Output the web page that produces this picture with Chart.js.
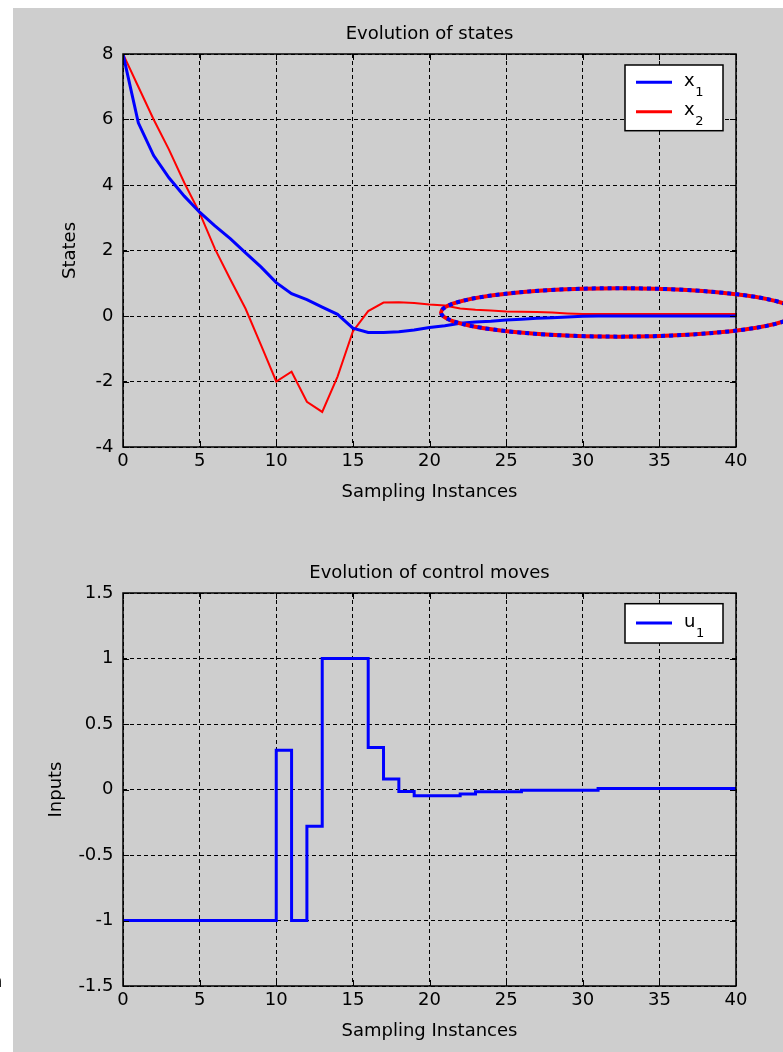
<!DOCTYPE html>
<html>
<head>
<meta charset="utf-8">
<script src="https://cdn.jsdelivr.net/npm/chart.js@4.4.1/dist/chart.umd.min.js"></script>
<style>
html, body { margin: 0; padding: 0; background: #ffffff; width: 783px; height: 1052px; overflow: hidden; }
#bg { position: absolute; left: 13px; top: 8px; right: 0; bottom: 0; background: #cecece; }
canvas { position: absolute; left: 0; }
#c1 { top: 0; }
#c2 { top: 520px; }
#stray { position: absolute; left: -9px; top: 972px; font: 18px "DejaVu Sans"; line-height: 18px; color: #000; }
</style>
</head>
<body>
<div id="bg"></div>
<canvas id="c1" width="783" height="520"></canvas>
<canvas id="c2" width="783" height="532"></canvas>
<span id="stray">n</span>
<script>
// ---------------- data ----------------
const samplingInstances = [0,1,2,3,4,5,6,7,8,9,10,11,12,13,14,15,16,17,18,19,20,
  21,22,23,24,25,26,27,28,29,30,31,32,33,34,35,36,37,38,39,40];

const x1States = [8, 5.9, 4.9, 4.22, 3.66, 3.17, 2.75, 2.36, 1.93, 1.5,
  1.02, 0.68, 0.5, 0.27, 0.05, -0.37, -0.5, -0.5, -0.48, -0.43,
  -0.35, -0.3, -0.22, -0.18, -0.16, -0.12, -0.1, -0.07, -0.05, -0.03,
  -0.01, 0, 0, 0, 0, 0, 0, 0, 0, 0, 0];

const x2States = [8, 7.0, 6.0, 5.08, 4.07, 3.15, 2.05, 1.12, 0.22, -0.88,
  -2.0, -1.7, -2.62, -2.93, -1.85, -0.47, 0.15, 0.41, 0.42, 0.4,
  0.35, 0.32, 0.23, 0.19, 0.17, 0.14, 0.13, 0.12, 0.11, 0.08,
  0.06, 0.06, 0.06, 0.06, 0.06, 0.06, 0.06, 0.06, 0.06, 0.06, 0.06];

const u1Inputs = [-1, -1, -1, -1, -1, -1, -1, -1, -1, -1,
  0.3, -1, -0.28, 1, 1, 1, 0.32, 0.08, -0.015, -0.047,
  -0.047, -0.047, -0.035, -0.017, -0.017, -0.017, -0.005, -0.005, -0.005, -0.005,
  -0.005, 0.008, 0.008, 0.008, 0.008, 0.008, 0.008, 0.008, 0.008, 0.008, 0.008];

const xTickValues = [0, 5, 10, 15, 20, 25, 30, 35, 40];
const xTickLabels = ['0', '5', '10', '15', '20', '25', '30', '35', '40'];
const statesTickValues = [-4, -2, 0, 2, 4, 6, 8];
const statesTickLabels = ['-4', '-2', '0', '2', '4', '6', '8'];
const inputsTickValues = [-1.5, -1, -0.5, 0, 0.5, 1, 1.5];
const inputsTickLabels = ['-1.5', '-1', '-0.5', '0', '0.5', '1', '1.5'];

// highlighted region (data units): centre t, centre value, half-width, half-height
const highlightEllipse = [32.35, 0.11, 11.6, 0.74];

// ---------------- helpers ----------------
const FONT = '"DejaVu Sans", sans-serif';
const toXY = (vals) => samplingInstances.map((t, i) => ({ x: t, y: vals[i] }));

const matlabFrame = {
  id: 'matlabFrame',
  afterDatasetsDraw(chart) {
    const { ctx, chartArea: a, scales: { x, y } } = chart;
    const L = 6;
    ctx.save();
    ctx.setLineDash([]);
    ctx.strokeStyle = '#000';
    ctx.lineWidth = 1;
    ctx.beginPath();
    x.ticks.forEach(t => {
      const px = Math.round(x.getPixelForValue(t.value)) + 0.5;
      ctx.moveTo(px, a.bottom); ctx.lineTo(px, a.bottom - L);
      ctx.moveTo(px, a.top); ctx.lineTo(px, a.top + L);
    });
    y.ticks.forEach(t => {
      const py = Math.round(y.getPixelForValue(t.value)) + 0.5;
      ctx.moveTo(a.left, py); ctx.lineTo(a.left + L, py);
      ctx.moveTo(a.right, py); ctx.lineTo(a.right - L, py);
    });
    ctx.stroke();
    ctx.lineWidth = 1.5;
    ctx.strokeRect(a.left, a.top, a.right - a.left, a.bottom - a.top);
    ctx.restore();
  }
};

const matlabLegend = {
  id: 'matlabLegend',
  afterDraw(chart, args, o) {
    const { ctx, chartArea: a } = chart;
    const w = 98;
    const left = a.right - 13 - w, top = a.top + o.offsetTop;
    ctx.save();
    ctx.setLineDash([]);
    ctx.fillStyle = '#fff';
    ctx.fillRect(left, top, w, o.height);
    ctx.strokeStyle = '#000';
    ctx.lineWidth = 1.5;
    ctx.strokeRect(left, top, w, o.height);
    chart.data.datasets.forEach((d, i) => {
      const yy = top + o.firstRow + i * o.rowGap;
      ctx.strokeStyle = d.borderColor;
      ctx.lineWidth = 3;
      ctx.beginPath();
      ctx.moveTo(left + 11, yy);
      ctx.lineTo(left + 47, yy);
      ctx.stroke();
      const parts = d.label.split('_');
      ctx.fillStyle = '#000';
      ctx.textAlign = 'left';
      ctx.textBaseline = 'alphabetic';
      ctx.font = '18px ' + FONT;
      ctx.fillText(parts[0], left + 59, yy + 3.5);
      const mw = ctx.measureText(parts[0]).width;
      ctx.font = '13px ' + FONT;
      ctx.fillText(parts[1], left + 59 + mw + 0.5, yy + 13.5);
    });
    ctx.restore();
  }
};

const ellipsePlugin = {
  id: 'ellipsePlugin',
  afterDraw(chart, args, o) {
    if (!o || !o.ellipse) return;
    const { ctx, scales: { x, y } } = chart;
    const [cx, cy, rx, ry] = o.ellipse;
    const px = x.getPixelForValue(cx), py = y.getPixelForValue(cy);
    const prx = x.getPixelForValue(cx + rx) - px;
    const pry = py - y.getPixelForValue(cy + ry);
    ctx.save();
    ctx.lineWidth = 4;
    ctx.beginPath();
    ctx.ellipse(px, py, prx, pry, 0, 0, 2 * Math.PI);
    ctx.strokeStyle = '#ff0000';
    ctx.setLineDash([]);
    ctx.stroke();
    ctx.strokeStyle = '#0000ff';
    ctx.setLineDash([4, 4]);
    ctx.stroke();
    ctx.restore();
  }
};

function makeOptions(cfg) {
  return {
    responsive: false,
    animation: false,
    devicePixelRatio: 1,
    layout: { padding: { left: 0, right: 47, top: 0, bottom: 0 } },
    plugins: {
      legend: { display: false },
      tooltip: { enabled: false },
      title: {
        display: true, text: cfg.title, fullSize: false, color: '#000',
        font: { family: FONT, size: 18, weight: 'normal', lineHeight: 1.2 },
        padding: { top: cfg.titlePadTop, bottom: cfg.titlePadBottom }
      },
      matlabLegend: cfg.legend,
      ellipsePlugin: { ellipse: cfg.ellipse }
    },
    scales: {
      x: {
        type: 'linear', min: 0, max: 40,
        afterBuildTicks: s => { s.ticks = xTickValues.map(v => ({ value: v })); },
        afterFit: s => { s.height = cfg.xHeight; },
        ticks: {
          autoSkip: false, maxRotation: 0, minRotation: 0, padding: 4, color: '#000',
          font: { family: FONT, size: 18, lineHeight: 1.2 },
          callback: (v, i) => xTickLabels[i]
        },
        grid: { color: '#000', lineWidth: 1, drawTicks: false },
        border: { display: false, dash: [4, 3] },
        title: {
          display: true, text: 'Sampling Instances', color: '#000',
          font: { family: FONT, size: 18, lineHeight: 1.2 },
          padding: { top: 0, bottom: cfg.xTitlePad }
        }
      },
      y: {
        type: 'linear', min: cfg.yTicks[0], max: cfg.yTicks[cfg.yTicks.length - 1],
        afterBuildTicks: s => { s.ticks = cfg.yTicks.map(v => ({ value: v })); },
        afterFit: s => { s.width = 123; },
        ticks: {
          autoSkip: false, padding: 9.5, color: '#000',
          font: { family: FONT, size: 18, lineHeight: 1.2 },
          callback: (v, i) => cfg.yLabels[i]
        },
        grid: { color: '#000', lineWidth: 1, drawTicks: false },
        border: { display: false, dash: [4, 3] },
        title: {
          display: true, text: cfg.yTitle, color: '#000',
          font: { family: FONT, size: 18, lineHeight: 1.2 },
          padding: { top: cfg.yTitlePad, bottom: 0 }
        }
      }
    }
  };
}

new Chart(document.getElementById('c1'), {
  type: 'line',
  data: {
    datasets: [
      { label: 'x_1', data: toXY(x1States), borderColor: '#0000ff', borderWidth: 3, pointRadius: 0, tension: 0, fill: false },
      { label: 'x_2', data: toXY(x2States), borderColor: '#ff0000', borderWidth: 2, pointRadius: 0, tension: 0, fill: false }
    ]
  },
  options: makeOptions({
    title: 'Evolution of states', titlePadTop: 23.2, titlePadBottom: 9.2,
    xHeight: 73, xTitlePad: 17.2,
    yTicks: statesTickValues, yLabels: statesTickLabels, yTitle: 'States', yTitlePad: 60,
    legend: { offsetTop: 11, height: 65.7, firstRow: 17.3, rowGap: 29.4 },
    ellipse: highlightEllipse
  }),
  plugins: [matlabFrame, matlabLegend, ellipsePlugin]
});

new Chart(document.getElementById('c2'), {
  type: 'line',
  data: {
    datasets: [
      { label: 'u_1', data: toXY(u1Inputs), borderColor: '#0000ff', borderWidth: 3, pointRadius: 0, stepped: true, fill: false }
    ]
  },
  options: makeOptions({
    title: 'Evolution of control moves', titlePadTop: 42.2, titlePadBottom: 9.2,
    xHeight: 66, xTitlePad: 10.2,
    yTicks: inputsTickValues, yLabels: inputsTickLabels, yTitle: 'Inputs', yTitlePad: 46,
    legend: { offsetTop: 10.7, height: 39.3, firstRow: 19.3, rowGap: 0 },
    ellipse: null
  }),
  plugins: [matlabFrame, matlabLegend, ellipsePlugin]
});
</script>
</body>
</html>
